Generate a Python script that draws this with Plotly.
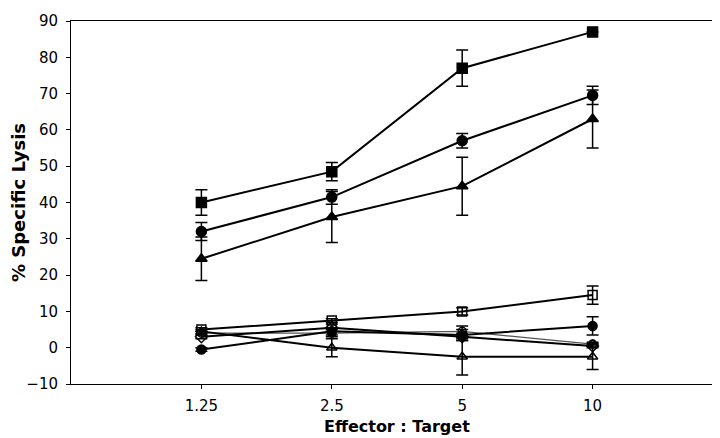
import plotly.graph_objects as go

categories = ["1.25", "2.5", "5", "10"]
xpos = [1, 2, 3, 4]

# upper series (filled markers)
sq_filled = [40, 48.5, 77, 87]
sq_filled_err = [3.5, 2.5, 5, 0]
circ_filled = [32, 41.5, 57, 69.5]
circ_filled_err = [2.5, 2, 2, 2.5]
tri_filled = [24.5, 36, 44.5, 63]
tri_filled_err = [6, 7, 8, 8]

# lower series (controls)
sq_open = [5, 7.5, 10, 14.5]
sq_open_err = [0.5, 0.5, 1, 2.5]
circ_small = [-0.5, 4.5, 3.5, 6]
circ_small_err = [0.5, 1, 1.5, 2.5]
diam_open = [3, 5.5, 3, 0.5]
diam_open_err = [0.5, 1, 1, 0.5]
circ_open = [4, 4, 4.5, 1]
circ_open_err = [0.5, 1, 1.5, 0.5]
tri_open = [4.5, 0, -2.5, -2.5]
tri_open_err = [0.5, 2.5, 5, 3.5]

fig = go.Figure()

def add(y, err, symbol, size, lw=2, color="black"):
    fig.add_trace(go.Scatter(
        x=xpos, y=y, mode="lines+markers",
        line=dict(color=color, width=lw),
        marker=dict(symbol=symbol, size=size, color="black",
                    line=dict(color="black", width=1.5)),
        error_y=dict(type="data", array=err, visible=True,
                     color="black", thickness=1.5, width=6),
        showlegend=False,
    ))

add(circ_open, circ_open_err, "circle-open", 8, lw=1.2, color="#555555")
add(diam_open, diam_open_err, "diamond-open", 9)
add(tri_open, tri_open_err, "triangle-up-open", 9)
add(circ_small, circ_small_err, "circle", 9)
add(sq_open, sq_open_err, "square-open", 9)
add(tri_filled, tri_filled_err, "triangle-up", 10)
add(circ_filled, circ_filled_err, "circle", 10)
add(sq_filled, sq_filled_err, "square", 10)

font = "DejaVu Sans, sans-serif"
fig.update_layout(
    width=720, height=438,
    margin=dict(l=62, r=4, t=8, b=62),
    paper_bgcolor="white", plot_bgcolor="white",
    font=dict(family=font, color="black", size=15),
    xaxis=dict(
        range=[0, 5], tickvals=xpos, ticktext=categories,
        showgrid=False, zeroline=False, showline=True, linecolor="black",
        linewidth=1, mirror=True, ticks="outside", ticklen=4, tickcolor="black",
        tickfont=dict(size=15), ticklabelstandoff=4,
    ),
    yaxis=dict(
        range=[-10, 90], tickvals=[-10, 0, 10, 20, 30, 40, 50, 60, 70, 80, 90],
        showgrid=False, zeroline=False, showline=True, linecolor="black",
        linewidth=1, mirror=True, ticks="outside", ticklen=4, tickcolor="black",
        tickfont=dict(size=15), ticklabeloverflow="allow", ticklabelstandoff=5,
        title=dict(text="<b>% Specific Lysis</b>", font=dict(size=18), standoff=2),
    ),
    annotations=[dict(
        text="<b>Effector : Target</b>", xref="paper", yref="paper",
        x=0.5, y=-0.117, xanchor="center", yanchor="middle",
        showarrow=False, font=dict(size=16),
    )],
)

fig.write_html("out.html")
